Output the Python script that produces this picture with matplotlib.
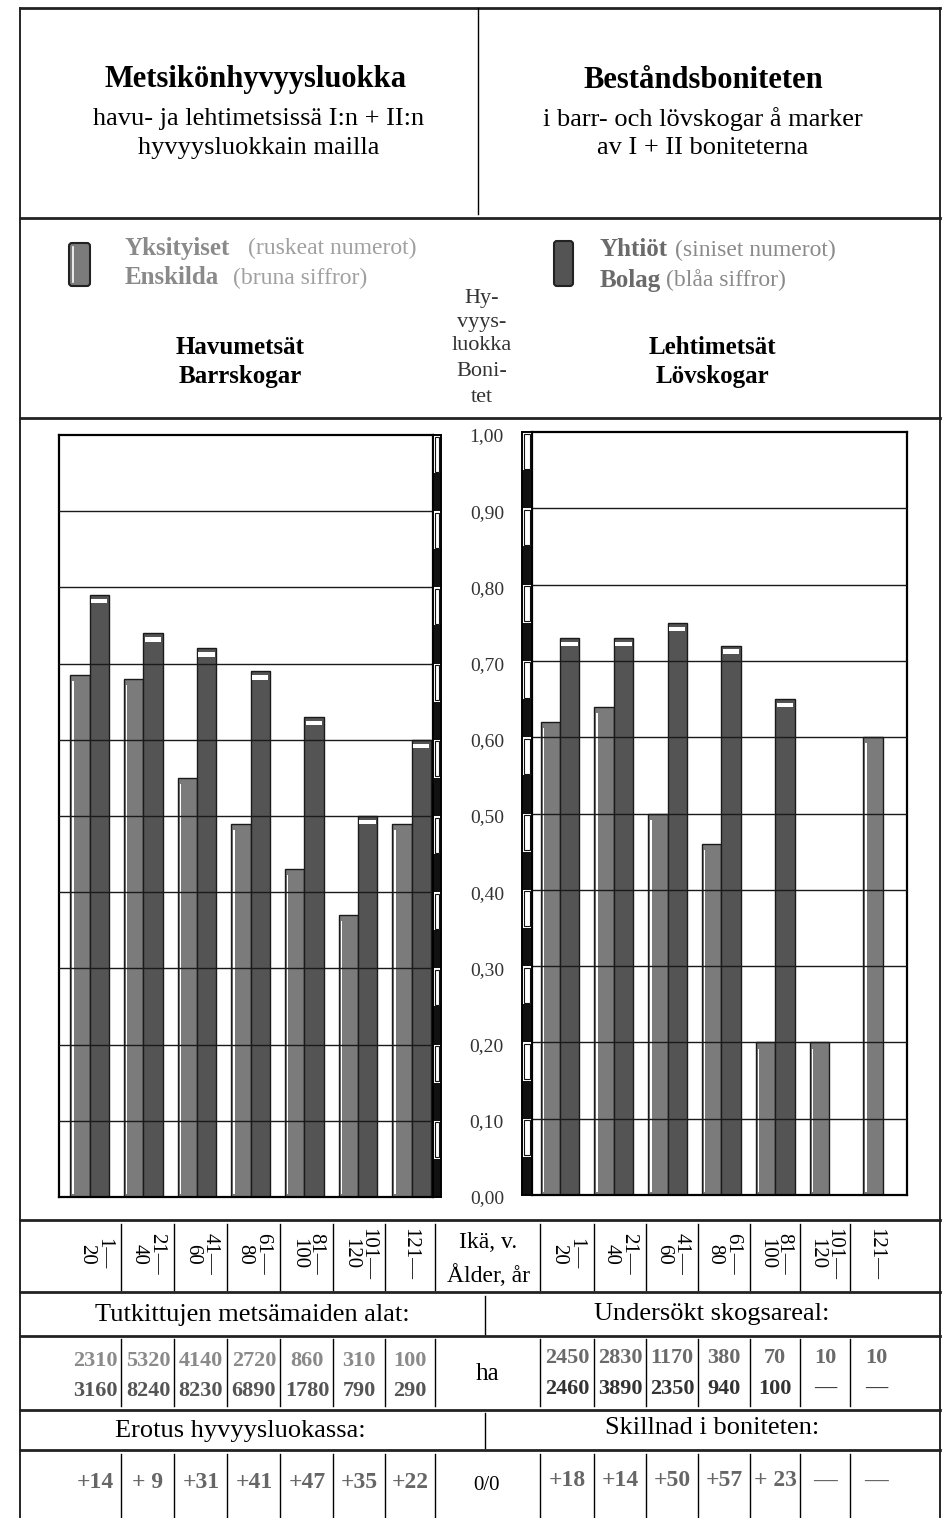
import matplotlib.pyplot as plt
import numpy as np
from matplotlib.patches import FancyBboxPatch

plt.rcParams['font.family'] = ['Liberation Serif', 'DejaVu Serif']

# --- data -------------------------------------------------------------
ages = ["1—\n20", "21—\n40", "41—\n60", "61—\n80", "81—\n100", "101—\n120", "121—"]

# Havumetsät / Barrskogar
havu_yks = [0.685, 0.68, 0.55, 0.49, 0.43, 0.37, 0.49]
havu_yht = [0.79, 0.74, 0.72, 0.69, 0.63, 0.50, 0.60]
# Lehtimetsät / Lövskogar
lehti_yks = [0.62, 0.64, 0.50, 0.46, 0.20, 0.20, 0.60]
lehti_yht = [0.73, 0.73, 0.75, 0.72, 0.65, np.nan, np.nan]

ticks = [0.0, 0.1, 0.2, 0.3, 0.4, 0.5, 0.6, 0.7, 0.8, 0.9, 1.0]
tick_labels = ["0,00", "0,10", "0,20", "0,30", "0,40", "0,50", "0,60", "0,70", "0,80", "0,90", "1,00"]

havu_ala_yks = ["2310", "5320", "4140", "2720", "860", "310", "100"]
havu_ala_yht = ["3160", "8240", "8230", "6890", "1780", "790", "290"]
lehti_ala_yks = ["2450", "2830", "1170", "380", "70", "10", "10"]
lehti_ala_yht = ["2460", "3890", "2350", "940", "100", "—", "—"]

havu_erotus = ["+14", "+ 9", "+31", "+41", "+47", "+35", "+22"]
lehti_erotus = ["+18", "+14", "+50", "+57", "+ 23", "—", "—"]

LIGHT = '#7b7b7b'
DARK = '#545454'
W, H = 948, 1518

fig = plt.figure(figsize=(W / 100, H / 100), dpi=100)

# overlay in pixel coordinates for rules and text
ov = fig.add_axes([0, 0, 1, 1])
ov.set_xlim(0, W)
ov.set_ylim(H, 0)
ov.axis('off')


def fax(x0, y0, x1, y1):
    # pixel box -> figure fraction
    return [x0 / W, 1 - y1 / H, (x1 - x0) / W, (y1 - y0) / H]


# outer frame and rules
ov.plot([20, 20], [8, 1518], color='k', lw=1.2)
ov.plot([940, 940], [8, 1518], color='k', lw=1.2)
for y in [8, 218, 418, 1220, 1292, 1336, 1410, 1450]:
    ov.plot([20, 940], [y, y], color='#222222', lw=2)
ov.plot([478, 478], [8, 214], color='k', lw=1)

# header
ov.text(256, 80, "Metsikönhyvyysluokka", ha='center', va='center', fontsize=22, fontweight='bold')
ov.text(259, 119, "havu- ja lehtimetsissä I:n + II:n", ha='center', va='center', fontsize=19)
ov.text(259, 148, "hyvyysluokkain mailla", ha='center', va='center', fontsize=19)
ov.text(703, 80, "Beståndsboniteten", ha='center', va='center', fontsize=22, fontweight='bold')
ov.text(703, 119, "i barr- och lövskogar å marker", ha='center', va='center', fontsize=19)
ov.text(703, 148, "av I + II boniteterna", ha='center', va='center', fontsize=19)

# legend swatches
ov.add_patch(FancyBboxPatch((69, 243), 21, 43, boxstyle='round,pad=0,rounding_size=3',
                            fc=LIGHT, ec='#222222', lw=1.5))
ov.plot([73, 73], [247, 282], color='white', lw=1.2)
ov.add_patch(FancyBboxPatch((554, 241), 19, 45, boxstyle='round,pad=0,rounding_size=3',
                            fc=DARK, ec='#222222', lw=1.5))

ov.text(125, 248, "Yksityiset", ha='left', va='center', fontsize=18, fontweight='bold', color='#8a8a8a')
ov.text(248, 248, "(ruskeat numerot)", ha='left', va='center', fontsize=17, color='#a0a0a0')
ov.text(125, 278, "Enskilda", ha='left', va='center', fontsize=18, fontweight='bold', color='#8a8a8a')
ov.text(233, 278, "(bruna siffror)", ha='left', va='center', fontsize=17, color='#a0a0a0')
ov.text(600, 250, "Yhtiöt", ha='left', va='center', fontsize=18, fontweight='bold', color='#6a6a6a')
ov.text(675, 250, "(siniset numerot)", ha='left', va='center', fontsize=17, color='#8a8a8a')
ov.text(600, 280, "Bolag", ha='left', va='center', fontsize=18, fontweight='bold', color='#6a6a6a')
ov.text(666, 280, "(blåa siffror)", ha='left', va='center', fontsize=17, color='#8a8a8a')

ov.text(240, 347, "Havumetsät", ha='center', va='center', fontsize=18, fontweight='bold')
ov.text(240, 376, "Barrskogar", ha='center', va='center', fontsize=18, fontweight='bold')
ov.text(712, 347, "Lehtimetsät", ha='center', va='center', fontsize=18, fontweight='bold')
ov.text(712, 376, "Lövskogar", ha='center', va='center', fontsize=18, fontweight='bold')
for y, s in zip([298, 322, 346, 372, 397], ["Hy-", "vyys-", "luokka", "Boni-", "tet"]):
    ov.text(482, y, s, ha='center', va='center', fontsize=16, color='#333333')


def draw_bars(ax, yks, yht):
    x = np.arange(len(yks))
    w = 0.36
    yks = np.array(yks, dtype=float)
    yht = np.array(yht, dtype=float)
    ax.bar(x - w / 2, yks, width=w, color=LIGHT, edgecolor='#1a1a1a', lw=1, zorder=2)
    ax.bar(x - w + 0.05, yks - 0.012, width=0.025, bottom=0.004,
           color='white', lw=0, zorder=2.5)
    ax.bar(x + w / 2, yht, width=w, color=DARK, edgecolor='#1a1a1a', lw=1, zorder=2)
    ax.bar(x + w / 2, 0.006, width=w * 0.85, bottom=yht - 0.011,
           color='white', lw=0, zorder=2.5)
    for t in ticks[1:-1]:
        ax.axhline(t, color='#1a1a1a', lw=1, zorder=3)
    ax.set_ylim(0, 1.0)
    ax.set_xticks([])
    ax.set_yticks([])
    for sp in ax.spines.values():
        sp.set_linewidth(1.6)


def draw_strip(ax):
    lo = np.arange(0, 1.0, 0.1)
    ax.bar(0, 0.05, bottom=lo, width=1, color='#111111', lw=0)
    ax.bar(0, 0.046, bottom=lo + 0.052, width=0.6, color='white', edgecolor='#111111', lw=0.8)
    ax.set_xlim(-0.5, 0.5)
    ax.set_ylim(0, 1.0)
    ax.set_xticks([])
    for sp in ax.spines.values():
        sp.set_linewidth(1.4)


# left chart
axl = fig.add_axes(fax(59, 435, 433, 1197))
draw_bars(axl, havu_yks, havu_yht)
axl.set_xlim(-0.57, 6.40)
sl = fig.add_axes(fax(433, 435, 441, 1197))
draw_strip(sl)
sl.yaxis.tick_right()
sl.set_yticks(ticks)
sl.set_yticklabels(tick_labels, fontsize=14, color='#333333', ha='center')
sl.tick_params(axis='y', length=0, pad=33)

# right chart
axr = fig.add_axes(fax(532, 432, 907, 1195))
draw_bars(axr, lehti_yks, lehti_yht)
axr.set_xlim(-0.52, 6.45)
sr = fig.add_axes(fax(522, 432, 532, 1195))
draw_strip(sr)
sr.set_yticks([])

# bottom table
lcols = [95, 148, 201, 254, 307, 359, 410]
rcols = [567, 620, 672, 724, 775, 825, 876]
ldiv = [121, 174, 227, 280, 333, 385, 435]
rdiv = [540, 594, 646, 698, 750, 800, 850]

for xd in ldiv + rdiv:
    ov.plot([xd, xd], [1224, 1290], color='k', lw=1)
    ov.plot([xd, xd], [1339, 1406], color='k', lw=1)
    ov.plot([xd, xd], [1454, 1518], color='k', lw=1)
ov.plot([485, 485], [1296, 1334], color='k', lw=1)
ov.plot([485, 485], [1413, 1448], color='k', lw=1)

for xc, s in zip(lcols, ages):
    ov.text(xc, 1254, s, rotation=270, ha='center', va='center', fontsize=15, linespacing=0.9)
for xc, s in zip(rcols, ages):
    ov.text(xc, 1254, s, rotation=270, ha='center', va='center', fontsize=15, linespacing=0.9)
ov.text(488, 1242, "Ikä, v.", ha='center', va='center', fontsize=17)
ov.text(489, 1276, "Ålder, år", ha='center', va='center', fontsize=17)

ov.text(252, 1315, "Tutkittujen metsämaiden alat:", ha='center', va='center', fontsize=19)
ov.text(712, 1314, "Undersökt skogsareal:", ha='center', va='center', fontsize=19)

for xc, a, b in zip(lcols, havu_ala_yks, havu_ala_yht):
    ov.text(xc, 1361, a, ha='center', va='center', fontsize=16, fontweight='bold', color='#8a8a8a')
    ov.text(xc, 1391, b, ha='center', va='center', fontsize=16, fontweight='bold', color='#555555')
for xc, a, b in zip(rcols, lehti_ala_yks, lehti_ala_yht):
    ov.text(xc, 1358, a, ha='center', va='center', fontsize=16, fontweight='bold', color='#6a6a6a')
    ov.text(xc, 1389, b, ha='center', va='center', fontsize=16, fontweight='bold', color='#333333')
ov.text(488, 1374, "ha", ha='center', va='center', fontsize=18)

ov.text(240, 1431, "Erotus hyvyysluokassa:", ha='center', va='center', fontsize=19)
ov.text(712, 1428, "Skillnad i boniteten:", ha='center', va='center', fontsize=19)

for xc, s in zip(lcols, havu_erotus):
    ov.text(xc, 1483, s, ha='center', va='center', fontsize=17, fontweight='bold', color='#666666')
for xc, s in zip(rcols, lehti_erotus):
    ov.text(xc, 1481, s, ha='center', va='center', fontsize=17, fontweight='bold', color='#666666')
ov.text(487, 1486, "0/0", ha='center', va='center', fontsize=15)

fig.savefig('out.png', dpi=100)
